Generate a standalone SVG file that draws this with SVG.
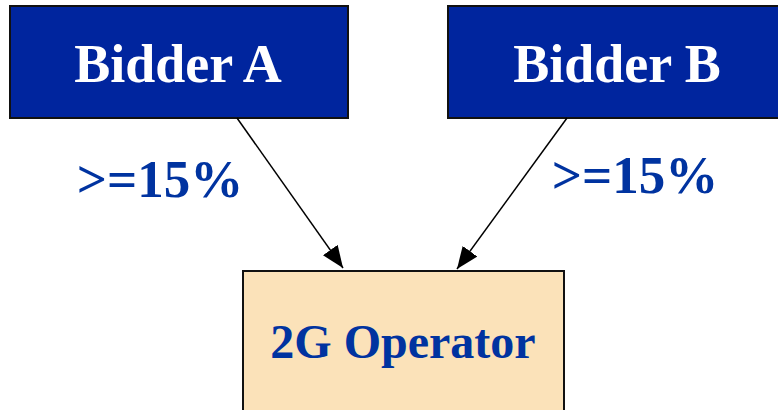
<svg xmlns="http://www.w3.org/2000/svg" width="778" height="410" viewBox="0 0 778 410">
<defs>
<marker id="ah" markerWidth="22" markerHeight="18" refX="22" refY="9" orient="auto" markerUnits="userSpaceOnUse" viewBox="0 0 22 18">
<path d="M0,0 L22,9 L0,18 z" fill="#000"/>
</marker>
<style>
.bid{fill:#00259E;stroke:#111;stroke-width:2}
.op{fill:#FBE2B9;stroke:#111;stroke-width:2}
.t{font-family:"Liberation Serif","Times New Roman",serif;font-weight:bold;text-anchor:middle}
.w{fill:#fff;font-size:54px}
.b{fill:#0033A0;font-size:53px}
.o{fill:#0033A0;font-size:48px}
.c{stroke:#000;stroke-width:1.5;fill:none}
</style>
</defs>
<rect width="778" height="410" fill="#fff"/>
<g id="bidderA">
<rect class="bid" x="10" y="6" width="338" height="112"/>
<text class="t w" x="178" y="82">Bidder A</text>
</g>
<g id="bidderB">
<rect class="bid" x="448" y="6" width="338" height="112"/>
<text class="t w" x="617" y="82">Bidder B</text>
</g>
<g id="operator">
<rect class="op" x="243" y="271" width="321" height="150"/>
<text class="t o" x="403" y="358">2G Operator</text>
</g>
<g id="connectors">
<line class="c" x1="237" y1="118" x2="343" y2="268" marker-end="url(#ah)"/>
<line class="c" x1="567" y1="118" x2="457" y2="269" marker-end="url(#ah)"/>
<text class="t b" x="160" y="197">&gt;=15%</text>
<text class="t b" x="635" y="193">&gt;=15%</text>
</g>
</svg>
